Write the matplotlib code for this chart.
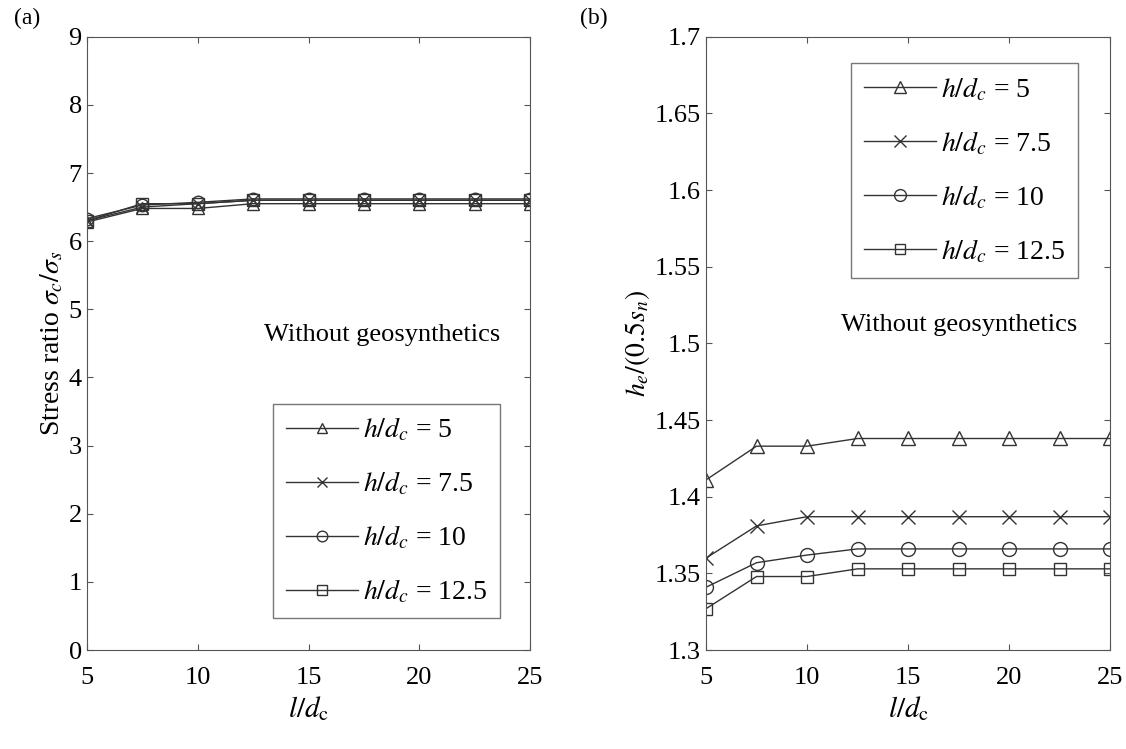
import matplotlib
matplotlib.use("Agg")
import matplotlib.pyplot as plt

plt.rcParams['font.family'] = ['Liberation Serif', 'DejaVu Serif']
plt.rcParams['mathtext.fontset'] = 'stix'

x = [5, 7.5, 10, 12.5, 15, 17.5, 20, 22.5, 25]
labels = [r'$h/d_c$ = 5', r'$h/d_c$ = 7.5', r'$h/d_c$ = 10', r'$h/d_c$ = 12.5']
markers = ['^', 'x', 'o', 's']

stress_h5 = [6.28, 6.48, 6.48, 6.55, 6.55, 6.55, 6.55, 6.55, 6.55]
stress_h75 = [6.30, 6.50, 6.55, 6.60, 6.60, 6.60, 6.60, 6.60, 6.60]
stress_h10 = [6.33, 6.53, 6.57, 6.62, 6.62, 6.62, 6.62, 6.62, 6.62]
stress_h125 = [6.30, 6.55, 6.55, 6.60, 6.60, 6.60, 6.60, 6.60, 6.60]

he_h5 = [1.411, 1.433, 1.433, 1.438, 1.438, 1.438, 1.438, 1.438, 1.438]
he_h75 = [1.360, 1.381, 1.387, 1.387, 1.387, 1.387, 1.387, 1.387, 1.387]
he_h10 = [1.341, 1.357, 1.362, 1.366, 1.366, 1.366, 1.366, 1.366, 1.366]
he_h125 = [1.327, 1.348, 1.348, 1.353, 1.353, 1.353, 1.353, 1.353, 1.353]

fig = plt.figure(figsize=(11.26, 7.49), dpi=100)
ax1 = fig.add_axes([0.077, 0.132, 0.394, 0.819])
ax2 = fig.add_axes([0.627, 0.132, 0.359, 0.819])

col = '#333333'
for ys, m, lab in zip([stress_h5, stress_h75, stress_h10, stress_h125], markers, labels):
    ax1.plot(x, ys, color=col, lw=1.0, marker=m, ms=9, mfc='none', mec=col, mew=1.0, label=lab)
for ys, m, lab in zip([he_h5, he_h75, he_h10, he_h125], markers, labels):
    ax2.plot(x, ys, color=col, lw=1.0, marker=m, ms=10 if m != 's' else 8, mfc='none', mec=col, mew=1.0, label=lab)

for ax in (ax1, ax2):
    ax.set_xlim(5, 25)
    ax.set_xticks([5, 10, 15, 20, 25])
    ax.tick_params(direction='in', top=True, right=True, labelsize=19, length=4, color='#555555')
    ax.tick_params(axis='x', pad=12)
    for s in ax.spines.values():
        s.set_color('#555555')
    ax.set_xlabel(r'$l/d_{\rm c}$', fontsize=21, labelpad=4)

ax1.set_ylim(0, 9)
ax1.set_yticks(range(10))
ax1.set_ylabel(r'Stress ratio $\sigma_c/\sigma_s$', fontsize=20, labelpad=2)
ax2.set_ylim(1.3, 1.7)
ax2.set_yticks([1.3, 1.35, 1.4, 1.45, 1.5, 1.55, 1.6, 1.65, 1.7])
ax2.set_yticklabels(['1.3', '1.35', '1.4', '1.45', '1.5', '1.55', '1.6', '1.65', '1.7'])
ax2.set_ylabel(r'$h_e/(0.5s_n)$', fontsize=20, labelpad=2)

ax1.text(0.932, 0.514, 'Without geosynthetics', transform=ax1.transAxes, ha='right', va='center', fontsize=19)
ax2.text(0.918, 0.53, 'Without geosynthetics', transform=ax2.transAxes, ha='right', va='center', fontsize=19)

for ax, loc, anchor in ((ax1, 'lower right', (0.932, 0.052)), (ax2, 'upper right', (0.921, 0.957))):
    leg = ax.legend(loc=loc, fontsize=20, frameon=True, fancybox=False, edgecolor='#555555',
                    handlelength=2.6, handletextpad=0.2, borderpad=0.45, labelspacing=0.95,
                    markerscale=0.85, borderaxespad=0.0, bbox_to_anchor=anchor)
    leg.get_frame().set_linewidth(1.0)

fig.text(0.012, 0.975, '(a)', fontsize=17, va='center')
fig.text(0.515, 0.975, '(b)', fontsize=17, va='center')

fig.savefig('out.png', dpi=100)
